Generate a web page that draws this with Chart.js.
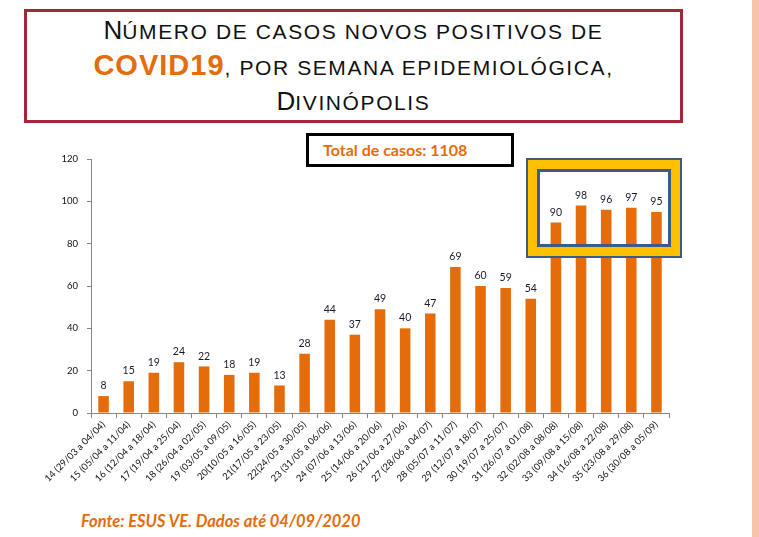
<!DOCTYPE html>
<html>
<head>
<meta charset="utf-8">
<script src="https://cdn.jsdelivr.net/npm/chart.js@4/dist/chart.umd.min.js"></script>
<style>
  html, body { margin: 0; padding: 0; background: #fff; }
  body { width: 759px; height: 537px; position: relative; overflow: hidden; }
  #stripe { position: absolute; left: 752px; top: 0; width: 7px; height: 537px; background: #f9c3a9; }
  #titleBox { position: absolute; left: 24px; top: 9px; width: 653px; height: 108px; border: 3px solid #9e2a38; }
  .tl { position: absolute; left: 24px; width: 659px; height: 30px; line-height: 30px; text-align: center;
        white-space: nowrap; font-family: "Liberation Sans", Arial, sans-serif; color: #111; }
  .big { font-size: 26px; }
  .sm { font-size: 21px; letter-spacing: 1.6px; }
  .cv { font-size: 29px; font-weight: bold; color: #e46c0a; letter-spacing: 1px; }
  #totalBox { position: absolute; left: 306px; top: 133px; width: 188px; height: 28px; border: 3px solid #000;
              font-family: Lato, "Open Sans", sans-serif; font-weight: bold; font-size: 16px; color: #e46c0a;
              line-height: 28px; padding-left: 14px; }
  #hiOuter { position: absolute; left: 526px; top: 158px; width: 152px; height: 96px; border: 2px solid #3b5c8a;
             pointer-events: none; }
  #hiYellow { position: absolute; left: 0; top: 0; right: 0; bottom: 0; border: 9px solid #ffc000; }
  #hiInner { position: absolute; left: 0; top: 0; right: 0; bottom: 0; border: 3px solid #3b5c8a; }
  #foot { position: absolute; left: 81px; top: 511px; line-height: 20px; font-family: Lato, "Open Sans", sans-serif;
          font-weight: bold; font-style: italic; font-size: 16.5px; color: #e46c0a; }
  #wrap { position: absolute; left: 0; top: 140px; width: 700px; height: 360px; }
</style>
</head>
<body>
<div id="stripe"></div>
<div id="titleBox"></div>
<div class="tl big" style="top:15px"><span class="big">N</span><span class="sm">ÚMERO DE CASOS NOVOS POSITIVOS DE</span></div>
<div class="tl cv" style="top:50px; color:#111; letter-spacing:0"><span class="cv">COVID19</span><span class="sm" style="font-weight:normal">, POR SEMANA EPIDEMIOLÓGICA,</span></div>
<div class="tl big" style="top:86px"><span class="big">D</span><span class="sm">IVINÓPOLIS</span></div>
<div id="totalBox">Total de casos: 1108</div>
<div id="wrap"><canvas id="myChart"></canvas></div>
<div id="hiOuter"><div id="hiYellow"><div id="hiInner"></div></div></div>
<div id="foot">Fonte: ESUS VE. Dados até 04/09/2020</div>
<script>
const weeks = [
  "14 (29/03 a 04/04)", "15 (05/04 a 11/04)", "16 (12/04 a 18/04)", "17 (19/04 a 25/04)",
  "18 (26/04 a 02/05)", "19 (03/05 a 09/05)", "20(10/05 a 16/05)", "21(17/05 a 23/05)",
  "22(24/05 a 30/05)", "23 (31/05 a 06/06)", "24 (07/06 a 13/06)", "25 (14/06 a 20/06)",
  "26 (21/06 a 27/06)", "27 (28/06 a 04/07)", "28 (05/07 a 11/07)", "29 (12/07 a 18/07)",
  "30 (19/07 a 25/07)", "31 (26/07 a 01/08)", "32 (02/08 a 08/08)", "33 (09/08 a 15/08)",
  "34 (16/08 a 22/08)", "35 (23/08 a 29/08)", "36 (30/08 a 05/09)"
];
const newCases = [8, 15, 19, 24, 22, 18, 19, 13, 28, 44, 37, 49, 40, 47, 69, 60, 59, 54, 90, 98, 96, 97, 95];
const yTicks = [0, 20, 40, 60, 80, 100, 120];

const axisGray = "#868686";
const tickFont = { family: "Lato, 'Open Sans', sans-serif", size: 9.5 };

// valores em cima das barras
const barValues = {
  id: "barValues",
  afterDatasetsDraw(chart) {
    const ctx = chart.ctx;
    const meta = chart.getDatasetMeta(0);
    ctx.save();
    ctx.font = "10.5px Lato, 'Open Sans', sans-serif";
    ctx.fillStyle = "#1a1a2e";
    ctx.textAlign = "center";
    ctx.textBaseline = "bottom";
    meta.data.forEach((bar, i) => {
      ctx.fillText(String(newCases[i]), bar.x, bar.y - 5);
    });
    ctx.restore();
  }
};

const ctx = document.getElementById("myChart").getContext("2d");
new Chart(ctx, {
  type: "bar",
  data: {
    labels: weeks,
    datasets: [{
      data: newCases,
      backgroundColor: "#e46c0a",
      barPercentage: 0.42,
      categoryPercentage: 1.0,
    }],
  },
  options: {
    responsive: true,
    maintainAspectRatio: false,
    animation: false,
    layout: { padding: { top: 19, right: 31, left: 0, bottom: 0 } },
    plugins: { legend: { display: false }, tooltip: { enabled: false } },
    scales: {
      x: {
        grid: { display: true, drawOnChartArea: false, offset: true, tickLength: 5, color: axisGray },
        border: { color: axisGray },
        ticks: { color: "#111", font: tickFont, maxRotation: 45, minRotation: 45, autoSkip: false, padding: 1 },
        afterFit: s => { s.height = 87; },
      },
      y: {
        min: 0,
        max: 120,
        afterBuildTicks: s => { s.ticks = yTicks.map(v => ({ value: v })); },
        grid: { display: true, drawOnChartArea: false, tickLength: 4, color: axisGray },
        border: { color: axisGray },
        ticks: { color: "#111", font: tickFont, padding: 9 },
        afterFit: s => { s.width = 91; },
      },
    },
  },
  plugins: [barValues],
});
</script>
</body>
</html>
